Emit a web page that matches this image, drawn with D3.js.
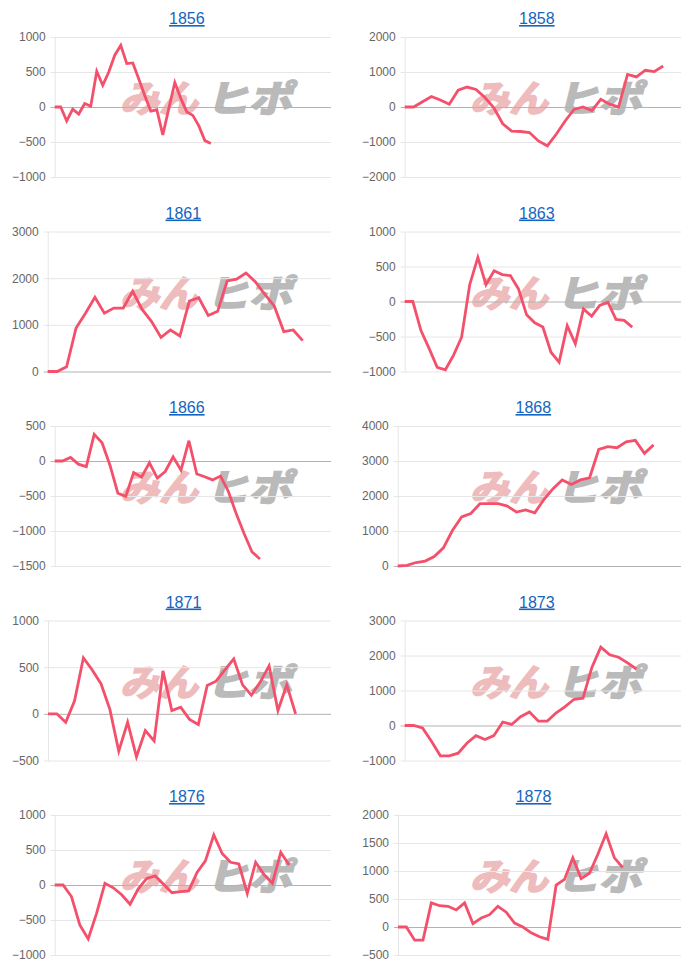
<!DOCTYPE html>
<html>
<head>
<meta charset="utf-8">
<script src="https://cdn.jsdelivr.net/npm/d3@7"></script>
<style>
  body { margin: 0; background: #fff; }
  svg text { font-family: "Liberation Sans", Arial, Helvetica, sans-serif; }
</style>
</head>
<body>
<div id="chart"></div>
<script>
// ********** DATA **********
const titles = ["1856", "1858", "1861", "1863", "1866", "1868", "1871", "1873", "1876", "1878"];

const v1856 = [0, 0, -200, -30, -100, 50, 10, 510, 310, 500, 740, 880, 620, 630, 400, 160, -60, -40, -400, -20, 350, 120, -70, -120, -270, -480, -520];
const v1858 = [0, 0, 150, 300, 200, 80, 480, 570, 500, 270, -20, -480, -690, -700, -730, -970, -1110, -780, -400, -70, 0, -100, 220, 80, 0, 930, 860, 1050, 1010, 1170];
const v1861 = [0, 0, 100, 930, 1250, 1590, 1250, 1360, 1360, 1720, 1330, 1070, 730, 890, 760, 1510, 1580, 1200, 1290, 1940, 1980, 2110, 1920, 1650, 1400, 855, 890, 660];
const v1863 = [0, 0, -415, -670, -940, -975, -770, -510, 240, 630, 240, 440, 385, 370, 180, -190, -305, -365, -725, -865, -345, -605, -105, -210, -55, -10, -255, -270, -365];
const v1866 = [0, 0, 50, -45, -80, 380, 260, -60, -460, -505, -165, -230, -25, -245, -150, 60, -130, 290, -185, -225, -270, -215, -435, -755, -1040, -1300, -1400];
const v1868 = [0, 20, 100, 140, 270, 520, 1020, 1400, 1500, 1780, 1780, 1780, 1710, 1540, 1600, 1520, 1900, 2210, 2460, 2330, 2460, 2520, 3330, 3410, 3380, 3550, 3590, 3220, 3460];
const v1871 = [0, 0, -90, 140, 600, 470, 320, 45, -400, -90, -460, -180, -290, 460, 35, 70, -60, -115, 305, 350, 470, 590, 310, 200, 340, 515, 35, 310, 0];
const v1873 = [0, 0, -70, -450, -865, -865, -790, -500, -290, -400, -290, 100, 30, 250, 385, 125, 125, 365, 540, 750, 780, 1660, 2240, 2020, 1950, 1790, 1615];
const v1876 = [0, 0, -165, -570, -770, -405, 25, -40, -140, -275, -50, 95, 130, 10, -110, -95, -85, 180, 345, 715, 450, 325, 300, -120, 325, 150, 25, 465, 285];
const v1878 = [0, 0, -235, -235, 430, 380, 370, 305, 430, 60, 160, 220, 370, 265, 70, 0, -105, -175, -220, 750, 850, 1235, 865, 960, 1295, 1665, 1235, 1060];

const series = [v1856, v1858, v1861, v1863, v1866, v1868, v1871, v1873, v1876, v1878];

// x slots shown on each chart (data only fills the first part)
const xSlots = [46, 31, 30, 34, 35, 31, 32, 31, 33, 34];

// y axis ranges
const yMins  = [-1000, -2000, 0, -1000, -1500, 0, -500, -1000, -1000, -500];
const yMaxs  = [1000, 2000, 3000, 1000, 500, 4000, 1000, 3000, 1000, 2000];
const ySteps = [500, 1000, 1000, 500, 500, 1000, 500, 1000, 500, 500];

// ********** LAYOUT **********
const width = 700, height = 971;
const colW = 350, rowH = 194.5;
const plotH = 140;
const lineColor = "#f4506c";
const fmt = d3.format("d");

const svg = d3.select("#chart")
	.append("svg")
	.attr("width", width)
	.attr("height", height);

// measure tick label width so the plot starts after the widest label
const measure = svg.append("text").style("font-size", "12px");
const textWidth = (s) => {
	measure.text(s);
	return measure.node().getComputedTextLength();
};

const renderPanel = (i) => {
	const col = i % 2, row = Math.floor(i / 2);
	const colX = col * colW, rowY = row * rowH;
	const ticks = d3.range(yMins[i], yMaxs[i] + 1, ySteps[i]);
	const labelW = d3.max(ticks, t => textWidth(fmt(t)));

	const top = rowY + 37, bottom = top + plotH;
	const left = colX + 12 + labelW + 9, right = colX + 331;

	const x = d3.scaleLinear().domain([0, xSlots[i]]).range([left, right]);
	const y = d3.scaleLinear().domain([yMins[i], yMaxs[i]]).range([bottom, top]);

	const g = svg.append("g").attr("class", "panel");

	// watermark
	const wm = g.append("g")
		.attr("transform", `translate(${colX + 120},${rowY + 112}) skewX(-14)`);
	wm.append("text")
		.attr("x", 0)
		.attr("textLength", 78)
		.attr("lengthAdjust", "spacingAndGlyphs")
		.attr("fill", "#eebcbc")
		.attr("stroke", "#eebcbc")
		.attr("stroke-width", 2)
		.style("font-family", "'Noto Sans CJK JP', sans-serif")
		.style("font-weight", "bold")
		.style("font-size", "37px")
		.text("みん");
	wm.append("text")
		.attr("x", 86)
		.attr("textLength", 86)
		.attr("lengthAdjust", "spacingAndGlyphs")
		.attr("fill", "#bababa")
		.attr("stroke", "#bababa")
		.attr("stroke-width", 2)
		.style("font-family", "'Noto Sans CJK JP', sans-serif")
		.style("font-weight", "bold")
		.style("font-size", "37px")
		.text("ヒポ");

	// y axis with gridlines
	const axis = g.append("g")
		.attr("transform", `translate(${left},0)`)
		.call(d3.axisLeft(y)
			.tickValues(ticks)
			.tickFormat(fmt)
			.tickSize(-(right - left))
			.tickSizeOuter(0)
			.tickPadding(9));
	axis.select(".domain").attr("stroke", "#e6e6e6");
	axis.selectAll(".tick line")
		.attr("stroke", d => d === 0 ? "#b3b3b3" : "#e6e6e6")
		.attr("x1", -4);
	axis.selectAll(".tick text")
		.attr("fill", "#666")
		.style("font-size", "12px")
		.style("font-family", "'Liberation Sans', Arial, sans-serif");

	// line
	const line = d3.line()
		.x((d, k) => x(k))
		.y(d => y(d));
	g.append("path")
		.datum(series[i])
		.attr("d", line)
		.attr("fill", "none")
		.attr("stroke", lineColor)
		.attr("stroke-width", 2.8)
		.attr("stroke-linejoin", "miter");

	// title
	g.append("text")
		.attr("x", (left + right) / 2 - 6)
		.attr("y", top - 13)
		.attr("text-anchor", "middle")
		.attr("fill", "#1565c0")
		.style("font-size", "16px")
		.style("text-decoration", "underline")
		.text(titles[i]);
};

titles.forEach((t, i) => renderPanel(i));
measure.remove();
</script>
</body>
</html>
